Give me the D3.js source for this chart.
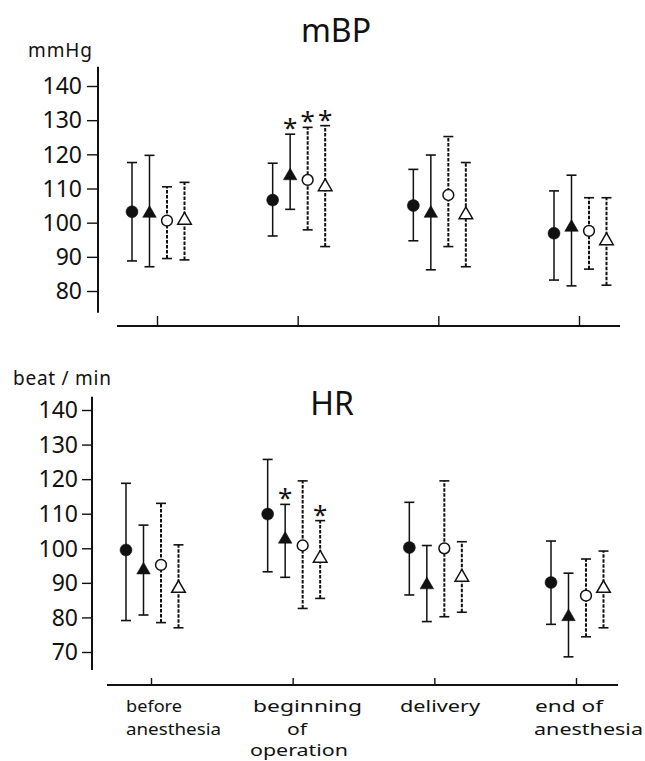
<!DOCTYPE html>
<html><head><meta charset="utf-8">
<script src="https://cdn.jsdelivr.net/npm/d3@7"></script>
<style>body{margin:0;background:#fff}svg{display:block}</style>
</head><body><svg id="c" width="645" height="761"></svg>
<script>
// ---------- data ----------
const categories = ["before anesthesia", "beginning of operation", "delivery", "end of anesthesia"];
const categoryLines = [["before", "anesthesia"], ["beginning", "of", "operation"], ["delivery"], ["end of", "anesthesia"]];
const series = ["filledCircle", "filledTriangle", "openCircle", "openTriangle"];

// mBP (mmHg): rows = categories, columns = series
const mbpMean = [[103.2, 102.7, 100.6, 100.7], [106.6, 113.7, 112.5, 110.5], [105.0, 102.7, 108.1, 102.3], [96.9, 98.6, 97.6, 94.7]];
const mbpLow  = [[88.8, 87.1, 89.5, 89.1], [96.1, 103.9, 97.9, 93.0], [94.7, 86.2, 93.0, 87.1], [83.2, 81.5, 86.4, 81.7]];
const mbpHigh = [[117.6, 119.7, 110.5, 111.8], [117.4, 125.9, 127.9, 128.4], [115.6, 119.8, 125.2, 117.6], [109.3, 113.9, 107.3, 107.3]];
const mbpStar = [[0, 0, 0, 0], [0, 1, 1, 1], [0, 0, 0, 0], [0, 0, 0, 0]];
const mbpTicks = [80, 90, 100, 110, 120, 130, 140];
const mbpAxisExtent = [73.6, 145.6];

// HR (beat/min)
const hrMean = [[99.5, 93.7, 95.2, 88.4], [109.9, 102.6, 100.8, 97.1], [100.2, 89.4, 100.0, 91.6], [90.1, 80.2, 86.3, 88.4]];
const hrLow  = [[79.1, 80.7, 78.5, 77.0], [93.2, 91.6, 82.6, 85.5], [86.5, 78.8, 80.2, 81.5], [78.0, 68.6, 74.4, 77.0]];
const hrHigh = [[118.8, 106.7, 113.0, 101.0], [125.7, 112.7, 119.5, 108.0], [113.3, 100.8, 119.5, 101.9], [102.1, 92.8, 96.9, 99.2]];
const hrStar = [[0, 0, 0, 0], [0, 1, 0, 1], [0, 0, 0, 0], [0, 0, 0, 0]];
const hrTicks = [70, 80, 90, 100, 110, 120, 130, 140];
const hrAxisExtent = [64.8, 143.8];

// ---------- drawing ----------
const ink = "#111";
const font = "'Noto Sans', 'Open Sans', sans-serif";
const svg = d3.select("#c");

function panel(cfg) {
  const y = d3.scaleLinear().domain(cfg.domain).range(cfg.yRange);
  const x = d3.scalePoint().domain(categories).range(cfg.xRange);
  const off = d3.scalePoint().domain(series).range([-25, 27.5]);
  const g = svg.append("g");

  // y axis
  const ya = g.append("g").attr("transform", `translate(${cfg.yAxisX},0)`)
    .call(d3.axisLeft(y).tickValues(cfg.ticks).tickSize(cfg.yTickSize).tickPadding(cfg.yTickPad).tickFormat(d3.format("d")));
  ya.select(".domain").remove();
  ya.append("line").attr("x1", 0).attr("x2", 0)
    .attr("y1", y(cfg.axisExtent[0])).attr("y2", y(cfg.axisExtent[1]))
    .attr("stroke", ink).attr("stroke-width", 2);
  ya.selectAll(".tick line").attr("stroke", ink).attr("stroke-width", 1.4);
  ya.selectAll(".tick text").attr("fill", ink).attr("font-family", font)
    .attr("font-size", 23).attr("dy", "0.34em");

  // x axis
  const xa = g.append("g").attr("transform", `translate(0,${cfg.xAxisY})`)
    .call(d3.axisTop(x).tickSize(cfg.xTickSize).tickFormat(""));
  xa.select(".domain").remove();
  xa.selectAll(".tick line").attr("stroke", ink).attr("stroke-width", 1.4);
  const xr = x.range();
  xa.append("line").attr("x1", xr[0] - cfg.xPad[0]).attr("x2", xr[1] + cfg.xPad[1])
    .attr("y1", 0).attr("y2", 0).attr("stroke", ink).attr("stroke-width", 1.8);

  // title and unit
  g.append("text").attr("x", cfg.titleX).attr("y", cfg.titleY).attr("text-anchor", "middle")
    .attr("font-family", font).attr("font-size", 32).attr("fill", ink).text(cfg.title);
  g.append("text").attr("x", cfg.unitX).attr("y", cfg.unitY)
    .attr("font-family", font).attr("font-size", 19).attr("fill", ink)
    .attr("textLength", cfg.unitW).attr("lengthAdjust", "spacing").text(cfg.unit);

  // points
  const pts = [];
  categories.forEach((c, i) => series.forEach((s, j) => pts.push({
    c, s, mean: cfg.mean[i][j], lo: cfg.low[i][j], hi: cfg.high[i][j], star: cfg.star[i][j]
  })));
  const px = d => x(d.c) + off(d.s);
  const open = d => d.s.startsWith("open");

  const eg = g.append("g").selectAll("g").data(pts).join("g");
  eg.append("line").attr("x1", px).attr("x2", px).attr("y1", d => y(d.lo)).attr("y2", d => y(d.hi))
    .attr("stroke", ink).attr("stroke-width", d => open(d) ? 2 : 1.5)
    .attr("stroke-dasharray", d => open(d) ? "3.5,1.5" : null);
  ["lo", "hi"].forEach(k => eg.append("line")
    .attr("x1", d => px(d) - 5).attr("x2", d => px(d) + 5)
    .attr("y1", d => y(d[k])).attr("y2", d => y(d[k]))
    .attr("stroke", ink).attr("stroke-width", 1.6));

  eg.filter(d => d.s.endsWith("Circle")).append("circle")
    .attr("cx", px).attr("cy", d => y(d.mean)).attr("r", d => open(d) ? 5.4 : 6)
    .attr("fill", d => open(d) ? "#fff" : ink).attr("stroke", ink).attr("stroke-width", d => open(d) ? 1.5 : 0.5);
  eg.filter(d => d.s.endsWith("Triangle")).append("path")
    .attr("d", d3.symbol(d3.symbolTriangle, 80))
    .attr("transform", d => `translate(${px(d)},${y(d.mean)})`)
    .attr("fill", d => open(d) ? "#fff" : ink).attr("stroke", ink).attr("stroke-width", d => open(d) ? 1.5 : 0.5);

  eg.filter(d => d.star).append("text").attr("x", px).attr("y", d => y(d.hi) + 3)
    .attr("text-anchor", "middle").attr("font-family", font).attr("font-size", 26)
    .attr("fill", ink).text("*");
  return x;
}

panel({
  title: "mBP", titleX: 336, titleY: 42, unit: "mmHg", unitX: 28, unitY: 57, unitW: 64,
  domain: [80, 140], yRange: [291, 86], ticks: mbpTicks, axisExtent: mbpAxisExtent,
  yAxisX: 98, yTickSize: 11, yTickPad: 5,
  xRange: [157, 579], xAxisY: 326, xTickSize: 10, xPad: [40, 41],
  mean: mbpMean, low: mbpLow, high: mbpHigh, star: mbpStar
});

panel({
  title: "HR", titleX: 332, titleY: 415, unit: "beat / min", unitX: 13, unitY: 385, unitW: 98,
  domain: [70, 140], yRange: [652, 410], ticks: hrTicks, axisExtent: hrAxisExtent,
  yAxisX: 92, yTickSize: 10, yTickPad: 4,
  xRange: [151, 576], xAxisY: 685, xTickSize: 7, xPad: [44, 42],
  mean: hrMean, low: hrLow, high: hrHigh, star: hrStar
});

// category labels (text layout: left x, width per line)
const labelLayout = [
  [[126, 56], [126, 95]],
  [[253, 109], [287, 20], [250, 98]],
  [[400, 80]],
  [[535, 68], [534, 109]]
];
const lineY = [712, 734.5, 755.5];
const lg = svg.append("g").attr("font-family", font).attr("font-size", 17).attr("fill", ink);
categoryLines.forEach((lines, i) => lines.forEach((t, k) => {
  lg.append("text").attr("x", labelLayout[i][k][0]).attr("y", lineY[k])
    .attr("textLength", labelLayout[i][k][1]).attr("lengthAdjust", "spacingAndGlyphs").text(t);
}));
</script>
</body></html>
